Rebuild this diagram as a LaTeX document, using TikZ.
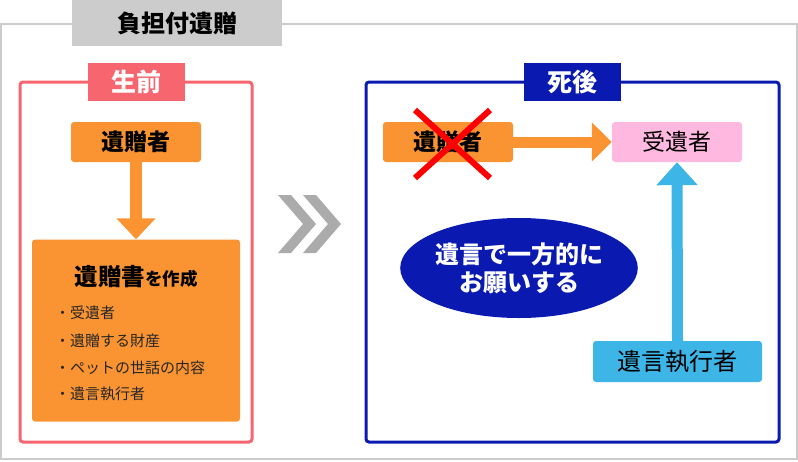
\documentclass[tikz,border=0pt]{standalone}
\usepackage{fontspec}
\setmainfont{Noto Sans CJK JP}
\usetikzlibrary{arrows.meta,shapes.geometric}
\definecolor{orng}{HTML}{FA9432}
\definecolor{pinkln}{HTML}{F7666F}
\definecolor{dblue}{HTML}{0A1AB0}
\definecolor{sky}{HTML}{3DB6E7}
\definecolor{pinkfill}{HTML}{FFB8E0}
\definecolor{ltgray}{HTML}{CCCCCC}
\definecolor{chev}{HTML}{ABABAB}
\tikzset{
  box/.style={rounded corners=3pt, inner sep=0pt, minimum width=130pt, minimum height=40pt},
  tag/.style={inner sep=0pt, minimum width=97pt, minimum height=38pt, text=white, font=\fontsize{25}{28}\selectfont\bfseries},
  group/.style={rounded corners=3pt, line width=3pt},
  bigarrow/.style={line width=12pt, -{Triangle[width=38pt,length=21pt]}},
  bullet/.style={anchor=west, inner sep=0pt, text=black!85, font=\fontsize{15}{18}\selectfont},
}
\begin{document}
\begin{tikzpicture}[x=1pt,y=-1pt]
\useasboundingbox (0,0) rectangle (798,461);
% outer frame
\draw[ltgray, line width=1.5pt] (1,24) rectangle (797,459);
\node[fill=ltgray, inner sep=0pt, minimum width=210pt, minimum height=46pt, font=\fontsize{24}{28}\selectfont\bfseries] (title) at (177,23) {負担付遺贈};
% left group
\draw[group, pinkln] (20,82) rectangle (252,442);
\node[tag, fill=pinkln] (before) at (136.5,82) {生前};
\node[box, fill=orng, font=\fontsize{23}{26}\selectfont\bfseries] (giver) at (136,142) {遺贈者};
\node[box, fill=orng, minimum width=208pt, minimum height=182pt] (will) at (136,330.5) {};
\node[inner sep=0pt] (willtitle) at (136,277) {\fontsize{23.5}{26}\selectfont\bfseries 遺贈書\fontsize{17.5}{20}\selectfont を作成};
\node[bullet] (b1) at (55,313) {・受遺者};
\node[bullet] (b2) at (55,340.5) {・遺贈する財産};
\node[bullet] (b3) at (55,367.5) {・ペットの世話の内容};
\node[bullet] (b4) at (55,394) {・遺言執行者};
\draw[bigarrow, orng] (giver.south) -- (will.north);
% chevrons
\fill[chev] (278,195) -- (291,195) -- (316,224) -- (291,253) -- (278,253) -- (303,224) -- cycle;
\fill[chev] (303,195) -- (316,195) -- (341,224) -- (316,253) -- (303,253) -- (328,224) -- cycle;
% right group
\draw[group, dblue] (366,82) rectangle (779,442);
\node[tag, fill=dblue] (after) at (572.5,82) {死後};
\node[box, fill=orng, font=\fontsize{23}{26}\selectfont\bfseries] (giver2) at (448,142) {遺贈者};
\node[box, fill=pinkfill, font=\fontsize{23}{26}\selectfont] (recv) at (677,142) {受遺者};
\node[box, fill=sky, minimum width=169pt, minimum height=41pt, font=\fontsize{24}{27}\selectfont] (exec) at (677.5,361.5) {遺言執行者};
\node[ellipse, fill=dblue, inner sep=0pt, minimum width=212pt, minimum height=100pt, text=white, align=center, font=\fontsize{24}{28}\selectfont\bfseries] (req) at (519,268) {遺言で一方的に\\お願いする};
\draw[line width=11pt, orng, -{Triangle[width=38pt,length=20pt]}] (giver2.east) -- (recv.west);
\draw[line width=11pt, sky, -{Triangle[width=40pt,length=23pt]}] (exec.north) -- (recv.south);
% red cross
\coordinate (xa) at (415,110);
\coordinate (xb) at (490,178);
\coordinate (xc) at (490,110);
\coordinate (xd) at (415,178);
\draw[red, line width=6pt] (xa) -- (xb);
\draw[red, line width=6pt] (xc) -- (xd);
\end{tikzpicture}
\end{document}
